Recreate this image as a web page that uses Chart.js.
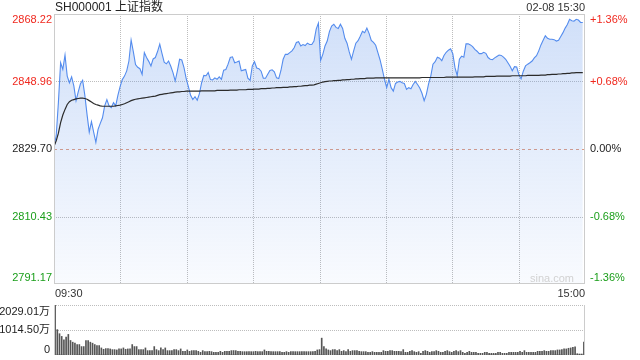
<!DOCTYPE html>
<html>
<head>
<meta charset="utf-8">
<script src="https://cdn.jsdelivr.net/npm/chart.js@4.4.1/dist/chart.umd.min.js"></script>
<style>
  html, body { margin: 0; padding: 0; background: #fff; }
  #wrap { position: relative; width: 640px; height: 360px; }
  #priceBox { position: absolute; left: 0; top: 0; width: 640px; height: 300px; }
  #volBox { position: absolute; left: 0; top: 300px; width: 640px; height: 60px; }
</style>
</head>
<body>
<div id="wrap">
  <div id="priceBox"><canvas id="priceChart"></canvas></div>
  <div id="volBox"><canvas id="volChart"></canvas></div>
</div>
<script>
const title = 'SH000001 上证指数';
const stamp = '02-08 15:30';
const prevClose = 2829.70;
const priceTicks = [2868.22, 2848.96, 2829.70, 2810.43, 2791.17];
const pctLabels = ['+1.36%', '+0.68%', '0.00%', '-0.68%', '-1.36%'];
const timeLabels = ['09:30', '15:00'];
const volTicks = [2029.01, 1014.50, 0];
const volLabels = ['2029.01万', '1014.50万', '0'];

// one value per minute, 09:30 .. 11:30, 13:01 .. 15:00
const prices = [
  2830.2, 2833.5, 2843.0, 2854.3, 2852.4, 2856.5, 2850.5, 2848.6, 2850.3, 2847.7,
  2843.5, 2846.0, 2848.3, 2849.3, 2845.0, 2839.5, 2834.5, 2837.5, 2834.5, 2831.6,
  2835.3, 2837.0, 2838.6, 2842.0, 2843.8, 2842.0, 2841.5, 2842.9, 2842.0, 2845.0,
  2847.5, 2849.5, 2850.5, 2852.0, 2854.8, 2860.8, 2857.5, 2853.8, 2853.0, 2852.6,
  2851.0, 2857.2, 2855.8, 2854.7, 2853.4, 2855.4, 2855.8, 2857.5, 2859.6, 2857.0,
  2854.5, 2854.0, 2854.8, 2853.3, 2851.5, 2849.1, 2852.0, 2855.3, 2855.1, 2852.9,
  2849.8, 2847.5, 2845.0, 2843.8, 2844.6, 2843.6, 2845.5, 2848.6, 2850.7, 2850.6,
  2851.5, 2849.5, 2849.4, 2850.0, 2849.6, 2850.3, 2849.6, 2852.2, 2852.4, 2853.9,
  2855.8, 2856.0, 2854.3, 2854.5, 2854.8, 2852.0, 2852.2, 2852.4, 2849.9, 2849.3,
  2853.4, 2854.6, 2852.8, 2852.6, 2851.9, 2849.9, 2849.9, 2851.0, 2852.1, 2852.3,
  2851.7, 2850.0, 2849.8, 2852.1, 2855.3, 2856.7, 2856.7, 2857.2, 2857.7, 2858.6,
  2860.1, 2860.3, 2859.1, 2859.5, 2859.2, 2859.9, 2859.5, 2859.5, 2860.5, 2863.9,
  2865.6, 2855.0, 2856.7, 2859.1, 2860.5, 2863.2, 2864.8, 2865.3, 2864.4, 2864.1,
  2865.3, 2864.1, 2861.3, 2859.9, 2857.4, 2855.3, 2857.7, 2859.9, 2860.6, 2861.9,
  2863.3, 2862.9, 2864.2, 2862.7, 2860.7, 2860.1, 2859.3, 2857.2, 2855.1, 2852.4,
  2849.6, 2847.2, 2849.6, 2847.2, 2846.2, 2848.4, 2848.8, 2849.0, 2848.6, 2848.4,
  2846.7, 2847.2, 2846.9, 2848.1, 2849.0, 2848.1, 2847.1, 2845.6, 2843.5, 2845.3,
  2848.3, 2850.5, 2853.9, 2854.6, 2855.9, 2855.6, 2854.9, 2856.4, 2857.3, 2857.9,
  2858.3, 2856.9, 2852.9, 2850.6, 2855.3, 2856.2, 2855.9, 2859.7, 2859.7, 2859.4,
  2858.9, 2858.1, 2857.6, 2856.9, 2856.9, 2857.3, 2857.0, 2855.8, 2855.3, 2855.2,
  2855.7, 2856.1, 2856.5, 2856.4, 2855.9, 2855.3, 2854.3, 2853.3, 2852.0, 2853.2,
  2853.1, 2850.9, 2849.7, 2851.9, 2853.4, 2853.9, 2854.3, 2854.8, 2855.7, 2856.3,
  2857.7, 2859.4, 2860.7, 2862.0, 2861.3, 2861.0, 2861.0, 2860.9, 2860.5, 2860.7,
  2861.8, 2862.9, 2864.2, 2865.2, 2866.7, 2866.3, 2866.2, 2866.7, 2866.5, 2865.8,
  2865.8
];

const avgPrices = [
  2830.5, 2832.0, 2834.2, 2837.2, 2839.4, 2841.0, 2842.4, 2843.2, 2843.6, 2843.8,
  2844.0, 2844.1, 2844.2, 2844.2, 2844.1, 2843.9, 2843.5, 2843.1, 2842.7, 2842.4,
  2842.2, 2842.0, 2841.9, 2841.9, 2841.9, 2841.9, 2841.9, 2841.9, 2842.0, 2842.1,
  2842.2, 2842.4, 2842.6, 2842.9, 2843.2, 2843.5, 2843.7, 2843.9, 2844.0, 2844.1,
  2844.2, 2844.3, 2844.4, 2844.5, 2844.6, 2844.7, 2844.8, 2845.0, 2845.2, 2845.3,
  2845.4, 2845.5, 2845.6, 2845.7, 2845.8, 2845.9, 2846.0, 2846.0, 2846.1, 2846.1,
  2846.2, 2846.2, 2846.2, 2846.2, 2846.2, 2846.2, 2846.2, 2846.3, 2846.3, 2846.3,
  2846.3, 2846.3, 2846.3, 2846.3, 2846.4, 2846.4, 2846.4, 2846.4, 2846.4, 2846.4,
  2846.5, 2846.5, 2846.5, 2846.5, 2846.6, 2846.6, 2846.6, 2846.6, 2846.7, 2846.7,
  2846.7, 2846.8, 2846.8, 2846.8, 2846.9, 2846.9, 2846.9, 2847.0, 2847.0, 2847.1,
  2847.1, 2847.2, 2847.2, 2847.2, 2847.3, 2847.3, 2847.3, 2847.4, 2847.4, 2847.5,
  2847.5, 2847.6, 2847.6, 2847.7, 2847.8, 2847.8, 2847.9, 2847.9, 2848.0, 2848.2,
  2848.4, 2848.6, 2848.8, 2848.9, 2849.0, 2849.1, 2849.1, 2849.2, 2849.2, 2849.3,
  2849.3, 2849.4, 2849.4, 2849.5, 2849.5, 2849.6, 2849.6, 2849.7, 2849.7, 2849.8,
  2849.8, 2849.8, 2849.9, 2849.9, 2849.9, 2849.9, 2850.0, 2850.0, 2850.0, 2850.0,
  2850.0, 2850.0, 2850.0, 2850.0, 2850.0, 2850.0, 2850.0, 2850.0, 2850.0, 2850.0,
  2850.0, 2850.0, 2850.0, 2850.0, 2850.0, 2850.0, 2850.0, 2850.1, 2850.1, 2850.1,
  2850.1, 2850.1, 2850.1, 2850.1, 2850.1, 2850.1, 2850.1, 2850.1, 2850.2, 2850.2,
  2850.2, 2850.2, 2850.2, 2850.2, 2850.2, 2850.2, 2850.2, 2850.2, 2850.2, 2850.2,
  2850.2, 2850.3, 2850.3, 2850.3, 2850.3, 2850.3, 2850.4, 2850.4, 2850.4, 2850.4,
  2850.4, 2850.5, 2850.5, 2850.5, 2850.5, 2850.5, 2850.5, 2850.5, 2850.6, 2850.6,
  2850.6, 2850.6, 2850.6, 2850.6, 2850.6, 2850.7, 2850.7, 2850.7, 2850.7, 2850.7,
  2850.7, 2850.8, 2850.8, 2850.8, 2850.9, 2850.9, 2851.0, 2851.0, 2851.0, 2851.1,
  2851.1, 2851.2, 2851.2, 2851.3, 2851.3, 2851.4, 2851.4, 2851.5, 2851.5, 2851.5,
  2851.5
];

// 万 shares per minute
const volumes = [
  2029, 1029, 864, 754, 617, 727, 836, 589, 520, 479,
  424, 424, 342, 342, 589, 589, 520, 479, 424, 380,
  380, 287, 232, 260, 260, 246, 218, 218, 205, 246,
  246, 287, 232, 246, 246, 424, 342, 342, 218, 218,
  218, 287, 177, 177, 177, 342, 218, 177, 287, 218,
  287, 177, 177, 177, 218, 218, 177, 246, 150, 150,
  205, 150, 177, 177, 177, 150, 108, 177, 136, 136,
  150, 136, 108, 108, 108, 150, 108, 150, 150, 150,
  177, 180, 177, 150, 150, 136, 136, 136, 136, 136,
  136, 150, 136, 136, 136, 205, 150, 150, 136, 136,
  136, 136, 136, 108, 108, 136, 108, 136, 136, 136,
  136, 136, 136, 136, 136, 136, 136, 136, 150, 205,
  218, 684, 342, 246, 205, 177, 218, 218, 177, 218,
  150, 177, 136, 218, 150, 177, 177, 177, 150, 136,
  136, 136, 108, 108, 136, 108, 108, 108, 108, 177,
  150, 150, 177, 177, 150, 150, 150, 136, 218, 108,
  108, 150, 177, 136, 108, 136, 67, 150, 177, 150,
  108, 136, 136, 177, 150, 108, 108, 150, 177, 136,
  108, 150, 177, 136, 177, 108, 67, 108, 150, 108,
  108, 108, 67, 67, 67, 108, 108, 67, 67, 67,
  67, 108, 108, 67, 67, 67, 108, 108, 108, 108,
  108, 150, 108, 177, 108, 108, 108, 108, 108, 150,
  150, 150, 177, 150, 150, 177, 177, 177, 205, 205,
  218, 246, 246, 273, 287, 314, 330, 53, 40, 40,
  520
];

const FONT = '"Liberation Sans", Arial, "Noto Sans CJK SC", sans-serif';
const RED = '#f0281e';
const GREEN = '#1a9e1a';
const DARK = '#222';
const BORDER = '#cccccc';
const DOT = '#bdbdbd';

function labelColor(v) {
  if (v > prevClose) return RED;
  if (v < prevClose) return GREEN;
  return DARK;
}

function hLine(ctx, a, y) {
  ctx.beginPath();
  ctx.moveTo(a.left, y);
  ctx.lineTo(a.right, y);
  ctx.stroke();
}

const pricePanel = {
  id: 'pricePanel',
  beforeDatasetsDraw(chart) {
    const { ctx, chartArea: a, scales } = chart;
    ctx.save();
    ctx.lineWidth = 1;
    ctx.strokeStyle = DOT;
    ctx.setLineDash([1, 1]);
    for (let k = 1; k < 8; k++) {
      const x = Math.round(scales.t.getPixelForValue(k)) + 0.5;
      ctx.beginPath();
      ctx.moveTo(x, a.top);
      ctx.lineTo(x, a.bottom);
      ctx.stroke();
    }
    priceTicks.forEach((v, i) => {
      if (i === 0 || i === priceTicks.length - 1) return;
      const y = Math.round(scales.y.getPixelForValue(v)) + 0.5;
      if (v === prevClose) {
        ctx.strokeStyle = '#e39a7c';
        ctx.setLineDash([3, 3]);
      } else {
        ctx.strokeStyle = DOT;
        ctx.setLineDash([1, 1]);
      }
      hLine(ctx, a, y);
    });
    ctx.restore();
  },
  afterDraw(chart) {
    const { ctx, chartArea: a, scales } = chart;
    ctx.save();
    ctx.strokeStyle = BORDER;
    ctx.lineWidth = 1;
    ctx.strokeRect(a.left + 0.5, a.top + 0.5, a.right - a.left - 1, a.bottom - a.top - 1);

    ctx.font = '11px ' + FONT;
    ctx.textBaseline = 'middle';
    priceTicks.forEach((v, i) => {
      let y = scales.y.getPixelForValue(v);
      if (i === 0) y += 6;
      if (i === priceTicks.length - 1) y -= 6;
      ctx.fillStyle = labelColor(v);
      ctx.textAlign = 'right';
      ctx.fillText(v.toFixed(2), 52, y);
      ctx.textAlign = 'left';
      ctx.fillText(pctLabels[i], 590, y);
    });

    ctx.fillStyle = '#333';
    ctx.textAlign = 'left';
    ctx.fillText(timeLabels[0], a.left + 1, a.bottom + 9.5);
    ctx.textAlign = 'right';
    ctx.fillText(timeLabels[1], a.right, a.bottom + 9.5);
    ctx.fillText(stamp, a.right, 7.5);

    ctx.fillStyle = '#d2d2d2';
    ctx.fillText('sina.com', a.right - 11, a.bottom - 5);

    ctx.font = '12px ' + FONT;
    ctx.fillStyle = DARK;
    ctx.textAlign = 'left';
    ctx.fillText(title, a.left + 1, 7.5);
    ctx.restore();
  }
};

const volPanel = {
  id: 'volPanel',
  beforeDatasetsDraw(chart) {
    const { ctx, chartArea: a, scales } = chart;
    ctx.save();
    ctx.lineWidth = 1;
    ctx.strokeStyle = DOT;
    ctx.setLineDash([1, 1]);
    volTicks.forEach(v => {
      let y = Math.round(scales.y.getPixelForValue(v)) + 0.5;
      if (v === 0) y -= 1;
      hLine(ctx, a, y);
    });
    ctx.restore();
  },
  afterDraw(chart) {
    const { ctx, chartArea: a, scales } = chart;
    ctx.save();
    ctx.strokeStyle = BORDER;
    ctx.lineWidth = 1;
    [a.left + 0.5, a.right - 0.5].forEach(x => {
      ctx.beginPath();
      ctx.moveTo(x, a.top);
      ctx.lineTo(x, a.bottom);
      ctx.stroke();
    });
    ctx.font = '11px ' + FONT;
    ctx.textBaseline = 'middle';
    ctx.textAlign = 'right';
    ctx.fillStyle = DARK;
    volTicks.forEach((v, i) => {
      let y = scales.y.getPixelForValue(v);
      if (i === 0) y += 6.5;
      if (i === volTicks.length - 1) y -= 5.5;
      ctx.fillText(volLabels[i], 50, y);
    });
    ctx.restore();
  }
};

new Chart(document.getElementById('priceChart'), {
  type: 'line',
  data: {
    datasets: [
      {
        label: '均价',
        data: avgPrices.map((v, i) => ({ x: i, y: v })),
        borderColor: '#2b2b2b',
        borderWidth: 1.2,
        pointRadius: 0,
        fill: false,
        order: 0
      },
      {
        label: '价格',
        data: prices.map((v, i) => ({ x: i, y: v })),
        borderColor: 'rgb(84, 140, 238)',
        borderWidth: 1.1,
        pointRadius: 0,
        fill: 'start',
        backgroundColor(ctx) {
          const a = ctx.chart.chartArea;
          if (!a) return 'rgba(100,150,235,0.2)';
          const g = ctx.chart.ctx.createLinearGradient(0, a.top, 0, a.bottom);
          g.addColorStop(0, 'rgba(100,150,235,0.30)');
          g.addColorStop(1, 'rgba(100,150,235,0.04)');
          return g;
        },
        order: 1
      }
    ]
  },
  options: {
    responsive: true,
    maintainAspectRatio: false,
    animation: false,
    layout: { padding: { left: 54, right: 55, top: 14, bottom: 16 } },
    plugins: { legend: { display: false }, tooltip: { enabled: false } },
    scales: {
      x: { type: 'linear', min: 0, max: 241, display: false },
      t: { type: 'linear', axis: 'x', position: 'bottom', min: 0, max: 8, display: false },
      y: { min: priceTicks[priceTicks.length - 1], max: priceTicks[0], display: false }
    }
  },
  plugins: [pricePanel]
});

new Chart(document.getElementById('volChart'), {
  type: 'bar',
  data: {
    labels: volumes.map((v, i) => i),
    datasets: [{
      label: '成交量',
      data: volumes,
      backgroundColor: '#555555',
      borderWidth: 0,
      barThickness: 1
    }]
  },
  options: {
    responsive: true,
    maintainAspectRatio: false,
    animation: false,
    layout: { padding: { left: 54, right: 55, top: 5, bottom: 5 } },
    plugins: { legend: { display: false }, tooltip: { enabled: false } },
    scales: {
      x: { type: 'category', offset: true, display: false },
      y: { min: 0, max: volTicks[0], display: false }
    }
  },
  plugins: [volPanel]
});
</script>
</body>
</html>
